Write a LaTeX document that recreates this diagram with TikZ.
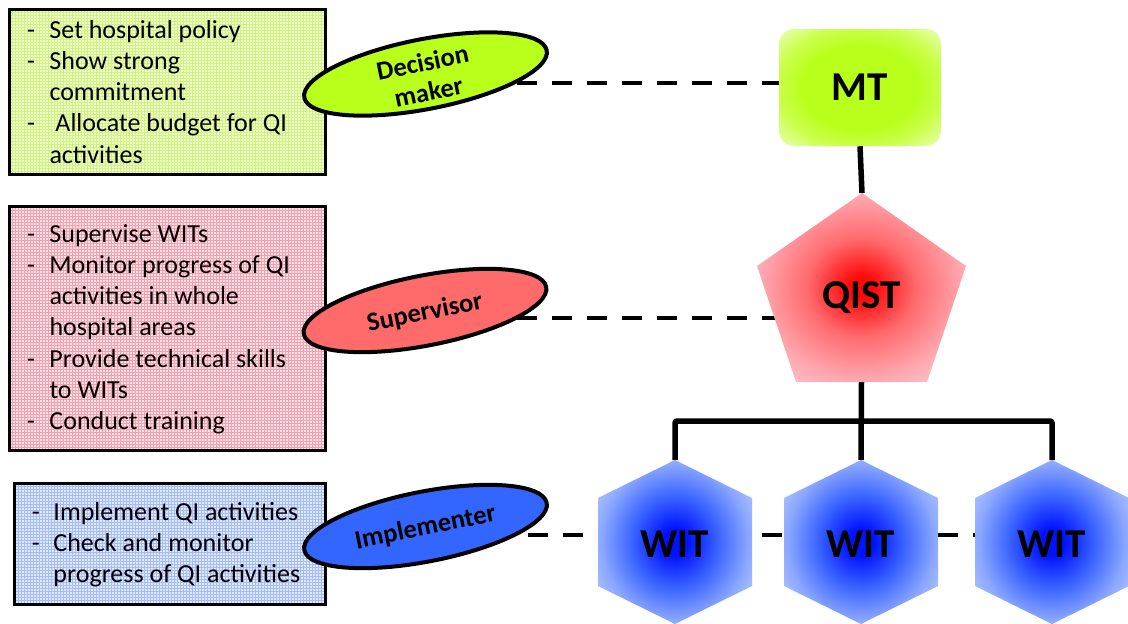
\documentclass[tikz,border=0pt]{standalone}
\usepackage{fontspec}
\setmainfont{Carlito}
\usetikzlibrary{shapes.geometric,patterns,backgrounds}
\definecolor{mtlime}{HTML}{B9FF1C}
\definecolor{mtmid}{HTML}{CBFF4E}
\definecolor{mtpale}{HTML}{EBFFC2}
\definecolor{qcore}{HTML}{FF0A0A}
\definecolor{qmid}{HTML}{FF6A6E}
\definecolor{qlight}{HTML}{FFA6AE}
\definecolor{qpale}{HTML}{FFCFD5}
\definecolor{wcore}{HTML}{0012FF}
\definecolor{wmid}{HTML}{3A64FF}
\definecolor{wlight}{HTML}{8CA8FF}
\definecolor{wpale}{HTML}{C6D4FF}
\definecolor{ellgreen}{HTML}{B9FF1C}
\definecolor{ellred}{HTML}{FF6B6B}
\definecolor{ellblue}{HTML}{3366FF}
\definecolor{boxgreen}{HTML}{F0FFC4}
\definecolor{gridgreen}{HTML}{D2F08A}
\definecolor{boxred}{HTML}{FFE2E8}
\definecolor{gridred}{HTML}{F2A2AE}
\definecolor{boxblue}{HTML}{DEE8FF}
\definecolor{gridblue}{HTML}{A6BCF2}
\pgfdeclareradialshading{mtshade}{\pgfpoint{0bp}{0bp}}{color(0bp)=(mtlime); color(18bp)=(mtlime); color(26bp)=(mtmid); color(36bp)=(mtpale); color(50bp)=(mtpale)}
\pgfdeclareradialshading{qistshade}{\pgfpoint{0bp}{0bp}}{color(0bp)=(qcore); color(3bp)=(qcore); color(13bp)=(qmid); color(24bp)=(qlight); color(34bp)=(qpale); color(50bp)=(qpale)}
\pgfdeclareradialshading{witshade}{\pgfpoint{0bp}{0bp}}{color(0bp)=(wcore); color(4bp)=(wcore); color(14bp)=(wmid); color(24bp)=(wlight); color(34bp)=(wpale); color(50bp)=(wpale)}
\newcommand\dashitem[2][22.3pt]{\hbox{\makebox[#1][l]{-}#2}}
\newcommand\contitem[2][22.3pt]{\hbox{\hskip#1\relax #2}}
\begin{document}
\begin{tikzpicture}[x=1pt,y=-1pt,
  infobox/.style={draw=black, line width=3pt, rectangle, inner sep=0pt},
  listtext/.style={inner sep=0pt, anchor=base west, font=\fontsize{26}{31.3}\selectfont},
  role/.style={ellipse, draw=black, line width=4pt, minimum width=247pt, minimum height=70pt, inner sep=0pt, rotate=11},
  roletext/.style={rotate=11.5, align=center, font=\fontsize{26.5}{30}\selectfont\bfseries, inner sep=0pt},
  bigtext/.style={font=\fontsize{41}{48}\selectfont\bfseries, inner sep=0pt},
  dashline/.style={line width=4pt, dash pattern=on 20pt off 15pt},
  solidline/.style={line width=5.5pt}]
\useasboundingbox (0,0) rectangle (1128,624);

% info boxes
\node[infobox, preaction={fill=boxgreen}, pattern=grid, pattern color=gridgreen, minimum width=316pt, minimum height=165pt] (gbox) at (167,91.5) {};
\node[infobox, preaction={fill=boxred}, pattern=grid, pattern color=gridred, minimum width=316pt, minimum height=244pt] (rbox) at (167,328) {};
\node[infobox, preaction={fill=boxblue}, pattern=grid, pattern color=gridblue, minimum width=311pt, minimum height=121pt] (bbox) at (169.5,543.5) {};

\node[listtext] (gtext) at (27,38) {\vtop{\dashitem{Set hospital policy}\dashitem{Show strong}\contitem{commitment}\dashitem{\hspace*{6pt}Allocate budget for QI}\contitem{activities}}};
\node[listtext] (rtext) at (27,242) {\vtop{\dashitem{Supervise WITs}\dashitem{Monitor progress of QI}\contitem{activities in whole}\contitem{hospital areas}\dashitem{Provide technical skills}\contitem{to WITs}\dashitem{Conduct training}}};
\node[listtext] (btext) at (31.7,520) {\vtop{\dashitem[21.6pt]{Implement QI activities}\dashitem[21.6pt]{Check and monitor}\contitem[21.6pt]{progress of QI activities}}};

% role ellipses
\node[role, fill=ellgreen] (dm) at (425.5,74) {};
\node[roletext] (dmtext) at (425.5,77) {Decision\\maker};
\node[role, fill=ellred] (sv) at (425,310.5) {};
\node[roletext] (svtext) at (425,313) {Supervisor};
\node[role, fill=ellblue] (im) at (425.5,526.5) {};
\node[roletext] (imtext) at (425.5,528) {Implementer};

% MT
\node[rectangle, rounded corners=15pt, minimum width=162pt, minimum height=117pt, shading=mtshade, bigtext] (mt) at (860,87.5) {MT};

% QIST pentagon
\path[shading=qistshade] (862,193) -- (966,266) -- (927,382) -- (796,382) -- (757,266) -- cycle;
\node[bigtext, anchor=base] (qist) at (861.5,308) {QIST};

% WIT hexagons
\foreach \cx/\nm in {675/wit1, 861/wit2, 1052/wit3}{
  \path[shading=witshade] (\cx,460) -- (\cx+77,498) -- (\cx+77,586) -- (\cx,624) -- (\cx-77,586) -- (\cx-77,498) -- cycle;
  \node[bigtext, anchor=base] (\nm) at (\cx,557) {WIT};
}

% connection points
\coordinate (qtop) at (862,193);
\coordinate (qbot) at (861.5,382);
\coordinate (qleft) at (774.5,318);
\coordinate (junc) at (861.5,421);
\coordinate (h1top) at (675,460);
\coordinate (h2top) at (861,460);
\coordinate (h3top) at (1052,460);
\coordinate (h1left) at (598,535);
\coordinate (h1right) at (752,535);
\coordinate (h2left) at (784,535);
\coordinate (h2right) at (938,535);
\coordinate (h3left) at (975,535);
\coordinate (dmrow) at (425.5,83);
\coordinate (svrow) at (425,318);
\coordinate (imrow) at (425.5,535);

\begin{pgfonlayer}{background}
\draw[dashline, dash phase=3pt] (mt.west |- dmrow) -- (dmrow);
\draw[dashline, dash phase=7pt] (qleft) -- (svrow);
\draw[dashline, dash phase=20pt] (h1left) -- (imrow);
\draw[dashline, dash phase=25pt] (h1right) -- (h2left);
\draw[dashline] (h2right) -- (h3left);
\draw[solidline] (mt.south) -- (qtop);
\draw[solidline] (qbot) -- (h2top);
\draw[solidline, rounded corners=2pt] (h1top) |- (junc) -| (h3top);
\end{pgfonlayer}
\end{tikzpicture}
\end{document}
